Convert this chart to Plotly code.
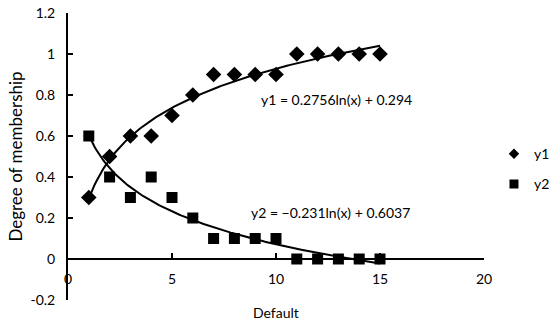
import numpy as np
import plotly.graph_objects as go

x_vals = [1, 2, 3, 4, 5, 6, 7, 8, 9, 10, 11, 12, 13, 14, 15]
y1_vals = [0.3, 0.5, 0.6, 0.6, 0.7, 0.8, 0.9, 0.9, 0.9, 0.9, 1.0, 1.0, 1.0, 1.0, 1.0]
y2_vals = [0.6, 0.4, 0.3, 0.4, 0.3, 0.2, 0.1, 0.1, 0.1, 0.1, 0.0, 0.0, 0.0, 0.0, 0.0]
# trendline coefficients shown on the chart: y = a*ln(x) + b
y1_fit = (0.2756, 0.294)
y2_fit = (-0.231, 0.6037)
y1_label = "y1 = 0.2756ln(x) + 0.294"
y2_label = "y2 = \u22120.231ln(x) + 0.6037"
x_ticks = [0, 5, 10, 15, 20]
y_ticks = [-0.2, 0, 0.2, 0.4, 0.6, 0.8, 1.0, 1.2]
y_ticktext = ["-0.2", "0", "0.2", "0.4", "0.6", "0.8", "1", "1.2"]

FONT = "Lato, 'Open Sans', sans-serif"
FS = 14
xs = np.linspace(min(x_vals), max(x_vals), 200)

fig = go.Figure()
fig.add_trace(go.Scatter(x=xs, y=y1_fit[0] * np.log(xs) + y1_fit[1], mode="lines",
                         line=dict(color="black", width=2), showlegend=False, hoverinfo="skip"))
fig.add_trace(go.Scatter(x=xs, y=y2_fit[0] * np.log(xs) + y2_fit[1], mode="lines",
                         line=dict(color="black", width=2), showlegend=False, hoverinfo="skip"))
fig.add_trace(go.Scatter(x=x_vals, y=y1_vals, mode="markers", name="y1", showlegend=False,
                         legendgroup="a", marker=dict(symbol="diamond", size=12, color="black")))
fig.add_trace(go.Scatter(x=x_vals, y=y2_vals, mode="markers", name="y2", showlegend=False,
                         legendgroup="b", marker=dict(symbol="square", size=11, color="black")))
# legend entries (smaller symbols, as in the reference legend)
fig.add_trace(go.Scatter(x=[None], y=[None], mode="markers", name="y1", legendgroup="a",
                         marker=dict(symbol="diamond", size=8, color="black")))
fig.add_trace(go.Scatter(x=[None], y=[None], mode="markers", name="y2", legendgroup="b",
                         marker=dict(symbol="square", size=9, color="black")))

fig.add_annotation(x=12.93, y=0.776, text=y1_label, showarrow=False, xanchor="center",
                   yanchor="middle", font=dict(family=FONT, size=FS, color="black"))
fig.add_annotation(x=12.6, y=0.228, text=y2_label, showarrow=False, xanchor="center",
                   yanchor="middle", font=dict(family=FONT, size=FS, color="black"))
fig.add_annotation(x=0.5, xref="paper", y=-0.045, yref="paper", yanchor="middle", text="Default",
                   showarrow=False, font=dict(family=FONT, size=FS, color="black"))

fig.update_layout(
    width=550, height=325,
    margin=dict(l=68, r=66, t=13, b=25, autoexpand=False),
    paper_bgcolor="white", plot_bgcolor="white",
    font=dict(family=FONT, size=FS, color="black"),
    xaxis=dict(range=[0, 20], tickvals=x_ticks, showgrid=False, zeroline=False,
               showline=True, linecolor="black", linewidth=2,
               ticks="inside", ticklen=5, tickwidth=1.5, tickcolor="black",
               ticklabelstandoff=7,
               anchor="free", position=1 / 7, automargin=False),
    yaxis=dict(range=[-0.2, 1.2], tickvals=y_ticks, ticktext=y_ticktext,
               showgrid=False, zeroline=False, showline=True, linecolor="black", linewidth=2,
               ticks="inside", ticklen=5, tickwidth=1.5, tickcolor="black", automargin=False,
               ticklabeloverflow="allow", ticklabelstandoff=8,
               title=dict(text="Degree of membership", standoff=4)),
    legend=dict(x=1.024, y=0.456, xanchor="left", yanchor="middle", bgcolor="rgba(0,0,0,0)",
                font=dict(size=FS), tracegroupgap=9, itemsizing="trace", itemwidth=30),
)

fig.write_html("out.html", config={"displayModeBar": False},
               post_script="document.body.style.margin='0';")
